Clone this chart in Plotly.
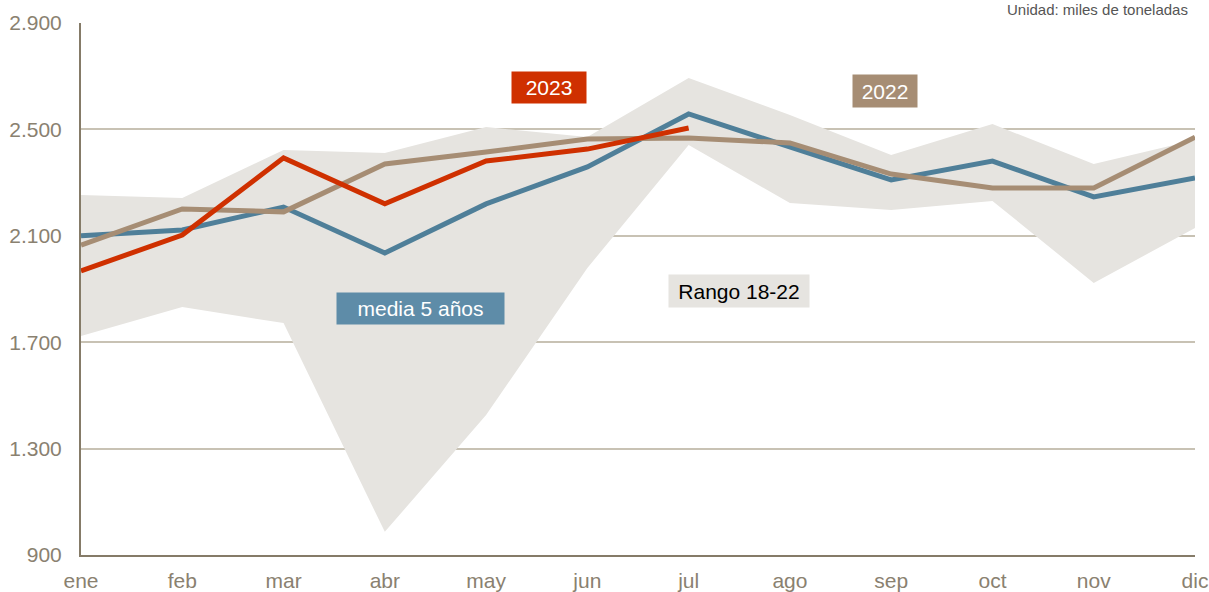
import plotly.graph_objects as go

# Monthly data, thousand tonnes
months = ["ene", "feb", "mar", "abr", "may", "jun", "jul", "ago", "sep", "oct", "nov", "dic"]
range_max = [2253, 2242, 2423, 2411, 2509, 2471, 2693, 2554, 2404, 2520, 2370, 2460]
range_min = [1723, 1832, 1772, 987, 1426, 1979, 2441, 2223, 2197, 2231, 1923, 2129]
media_5 = [2100, 2122, 2208, 2035, 2220, 2359, 2558, 2434, 2310, 2381, 2246, 2317]
year_2022 = [2065, 2201, 2190, 2370, 2415, 2464, 2468, 2449, 2332, 2280, 2280, 2471]
year_2023 = [1968, 2103, 2393, 2220, 2381, 2426, 2505]

x_idx = list(range(len(months)))

BLUE = "#4f7f99"
TAN = "#a68d74"
RED = "#cf3000"
BAND = "#e6e4e0"
TICK = "#8a8170"
FONT = "Liberation Sans, Arial"

fig = go.Figure()

# Range band 18-22
fig.add_trace(go.Scatter(x=x_idx, y=range_min, mode="lines",
                         line=dict(width=0, color=BAND), hoverinfo="skip"))
fig.add_trace(go.Scatter(x=x_idx, y=range_max, mode="lines", fill="tonexty",
                         fillcolor=BAND, line=dict(width=0, color=BAND),
                         name="Rango 18-22"))

# Lines
fig.add_trace(go.Scatter(x=x_idx, y=media_5, mode="lines",
                         line=dict(color=BLUE, width=5), name="media 5 años"))
fig.add_trace(go.Scatter(x=x_idx, y=year_2022, mode="lines",
                         line=dict(color=TAN, width=5), name="2022"))
fig.add_trace(go.Scatter(x=x_idx[:len(year_2023)], y=year_2023, mode="lines",
                         line=dict(color=RED, width=5), name="2023"))

# Series labels
labels = [
    ("2023", 4.62, 2659, RED, "white", 74, 31),
    ("2022", 7.94, 2644, TAN, "white", 64, 32),
    ("media 5 años", 3.35, 1825, "#5e8ca8", "white", 167, 31),
    ("Rango 18-22", 6.5, 1893, BAND, "black", 140, 32),
]
for text, lx, ly, bg, fc, w, h in labels:
    fig.add_annotation(x=lx, y=ly, xref="x", yref="y", text=text, showarrow=False,
                       bgcolor=bg, width=w, height=h, borderpad=0,
                       font=dict(size=21, color=fc, family=FONT))

# Unit note above the plot area
fig.add_annotation(x=1.0, y=1.0, xref="paper", yref="paper",
                   xanchor="right", yanchor="bottom", xshift=-6, yshift=4,
                   text="Unidad: miles de toneladas", showarrow=False,
                   borderpad=0,
                   font=dict(size=15, color="#555555", family=FONT))

fig.update_layout(
    width=1209,
    height=592,
    margin=dict(l=81, r=14, t=23, b=37),
    paper_bgcolor="white",
    plot_bgcolor="white",
    showlegend=False,
    separators=",.",
    font=dict(family=FONT, size=21, color=TICK),
    xaxis=dict(
        range=[0, 11],
        tickmode="array",
        tickvals=x_idx,
        ticktext=months,
        showgrid=False,
        showline=True,
        linecolor="#857b68",
        linewidth=2,
        ticks="",
        ticklabelstandoff=6,
        zeroline=False,
        automargin=False,
        fixedrange=True,
    ),
    yaxis=dict(
        range=[900, 2900],
        tickvals=[900, 1300, 1700, 2100, 2500, 2900],
        tickformat=",d",
        showgrid=True,
        gridcolor="#c8c2b4",
        gridwidth=1.5,
        showline=True,
        linecolor="#857b68",
        linewidth=2,
        ticks="",
        ticklabelstandoff=13,
        zeroline=False,
        automargin=False,
        fixedrange=True,
    ),
)

# the page body has a default 8px margin; drop it so the figure fills the window
fig.write_html("out.html", config={"displayModeBar": False},
               post_script="document.body.style.margin = '0';")
